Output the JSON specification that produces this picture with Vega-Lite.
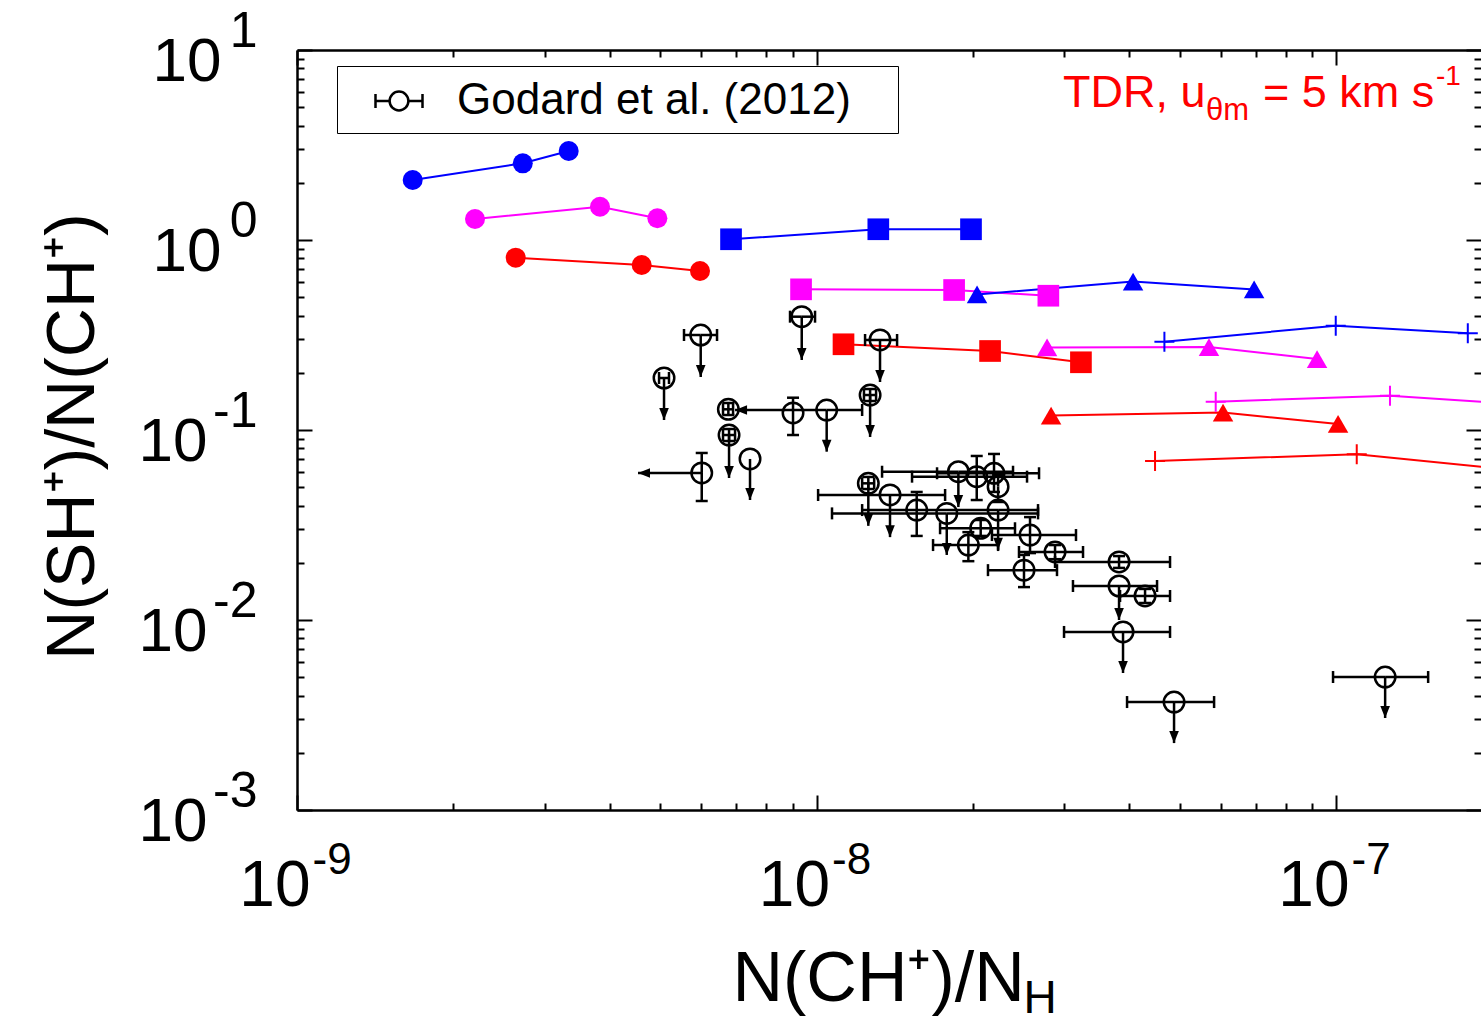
{
  "$schema": "https://vega.github.io/schema/vega-lite/v6.json",
  "width": 1184,
  "height": 760,
  "autosize": {"type": "none"},
  "padding": {"left": 297, "top": 50, "right": 0, "bottom": 211},
  "background": "white",
  "config": {
    "view": {"stroke": null},
    "axis": {"labelFont": "Liberation Sans", "titleFont": "Liberation Sans", "labelColor": "black", "titleColor": "black", "tickColor": "black", "domainColor": "black", "titleFontWeight": "normal", "grid": false},
    "text": {"font": "Liberation Sans"}
  },
  "datasets": {
    "models": [
      {"grp": "blue", "marker": "circle", "x": 1.670e-9, "y": 2.069},
      {"grp": "blue", "marker": "circle", "x": 2.720e-9, "y": 2.533},
      {"grp": "blue", "marker": "circle", "x": 3.334e-9, "y": 2.941},
      {"grp": "magenta", "marker": "circle", "x": 2.201e-9, "y": 1.290},
      {"grp": "magenta", "marker": "circle", "x": 3.830e-9, "y": 1.497},
      {"grp": "magenta", "marker": "circle", "x": 4.939e-9, "y": 1.301},
      {"grp": "red", "marker": "circle", "x": 2.636e-9, "y": 0.807},
      {"grp": "red", "marker": "circle", "x": 4.608e-9, "y": 0.739},
      {"grp": "red", "marker": "circle", "x": 5.967e-9, "y": 0.687},
      {"grp": "blue", "marker": "square", "x": 6.846e-9, "y": 1.009},
      {"grp": "blue", "marker": "square", "x": 1.315e-8, "y": 1.139},
      {"grp": "blue", "marker": "square", "x": 1.983e-8, "y": 1.139},
      {"grp": "magenta", "marker": "square", "x": 9.337e-9, "y": 0.550},
      {"grp": "magenta", "marker": "square", "x": 1.840e-8, "y": 0.5455},
      {"grp": "magenta", "marker": "square", "x": 2.794e-8, "y": 0.509},
      {"grp": "red", "marker": "square", "x": 1.127e-8, "y": 0.2826},
      {"grp": "red", "marker": "square", "x": 2.158e-8, "y": 0.2605},
      {"grp": "red", "marker": "square", "x": 3.228e-8, "y": 0.2272},
      {"grp": "blue", "marker": "triangle", "x": 2.037e-8, "y": 0.517},
      {"grp": "blue", "marker": "triangle", "x": 4.067e-8, "y": 0.604},
      {"grp": "blue", "marker": "triangle", "x": 6.955e-8, "y": 0.549},
      {"grp": "magenta", "marker": "triangle", "x": 2.778e-8, "y": 0.2718},
      {"grp": "magenta", "marker": "triangle", "x": 5.694e-8, "y": 0.2733},
      {"grp": "magenta", "marker": "triangle", "x": 9.193e-8, "y": 0.2363},
      {"grp": "red", "marker": "triangle", "x": 2.828e-8, "y": 0.1192},
      {"grp": "red", "marker": "triangle", "x": 6.060e-8, "y": 0.1236},
      {"grp": "red", "marker": "triangle", "x": 1.009e-7, "y": 0.1076},
      {"grp": "blue", "marker": "plus", "x": 4.673e-8, "y": 0.2915},
      {"grp": "blue", "marker": "plus", "x": 9.986e-8, "y": 0.3539},
      {"grp": "blue", "marker": "plus", "x": 1.793e-7, "y": 0.3228},
      {"grp": "magenta", "marker": "plus", "x": 5.866e-8, "y": 0.1409},
      {"grp": "magenta", "marker": "plus", "x": 1.270e-7, "y": 0.1515},
      {"grp": "magenta", "marker": "plus", "x": 2.363e-7, "y": 0.1354},
      {"grp": "red", "marker": "plus", "x": 4.483e-8, "y": 0.0687},
      {"grp": "red", "marker": "plus", "x": 1.096e-7, "y": 0.0745},
      {"grp": "red", "marker": "plus", "x": 2.261e-7, "y": 0.0611}
    ],
    "obs": [
      {"src": "Godard et al. (2012)", "x": 5.985e-9, "y": 0.3162, "xlo": 5.558e-9, "xhi": 6.434e-9, "ylim": 0.1901},
      {"src": "Godard et al. (2012)", "x": 9.365e-9, "y": 0.3948, "xlo": 8.892e-9, "xhi": 9.934e-9, "ylim": 0.2336},
      {"src": "Godard et al. (2012)", "x": 5.087e-9, "y": 0.1878, "xlo": 4.976e-9, "xhi": 5.200e-9, "ylim": 0.1129},
      {"src": "Godard et al. (2012)", "x": 1.325e-8, "y": 0.2977, "xlo": 1.240e-8, "xhi": 1.429e-8, "ylim": 0.1789},
      {"src": "Godard et al. (2012)", "x": 1.268e-8, "y": 0.1528, "xlo": 1.234e-8, "xhi": 1.302e-8, "ylo": 0.1421, "yhi": 0.1643, "ylim": 0.0919},
      {"src": "Godard et al. (2012)", "x": 6.765e-9, "y": 0.1285, "xlo": 6.607e-9, "xhi": 6.908e-9, "ylo": 0.1199, "yhi": 0.1387},
      {"src": "Godard et al. (2012)", "x": 6.786e-9, "y": 0.0941, "xlo": 6.607e-9, "xhi": 6.969e-9, "ylo": 0.0875, "yhi": 0.1012, "ylim": 0.0559},
      {"src": "Godard et al. (2012)", "x": 9.011e-9, "y": 0.1229, "ylo": 0.0941, "yhi": 0.1479},
      {"src": "Godard et al. (2012)", "x": 1.046e-8, "y": 0.1274, "xhi": 1.224e-8, "xlim": 6.969e-9, "ylim": 0.0769},
      {"src": "Godard et al. (2012)", "x": 7.447e-9, "y": 0.0704, "ylim": 0.0428},
      {"src": "Godard et al. (2012)", "x": 6.012e-9, "y": 0.0594, "ylo": 0.0423, "yhi": 0.0757, "xlim": 4.533e-9},
      {"src": "Godard et al. (2012)", "x": 1.258e-8, "y": 0.0524, "xlo": 1.224e-8, "xhi": 1.291e-8, "ylo": 0.0489, "yhi": 0.0566, "ylim": 0.0313},
      {"src": "Godard et al. (2012)", "x": 1.385e-8, "y": 0.0455, "xlo": 1.007e-8, "xhi": 1.768e-8, "ylim": 0.0273},
      {"src": "Godard et al. (2012)", "x": 1.559e-8, "y": 0.0379, "ylo": 0.0277, "yhi": 0.0472},
      {"src": "Godard et al. (2012)", "x": 1.781e-8, "y": 0.0364, "xlo": 1.071e-8, "xhi": 2.669e-8, "ylim": 0.0220},
      {"src": "Godard et al. (2012)", "x": 1.875e-8, "y": 0.0603, "xlo": 1.337e-8, "xhi": 2.389e-8, "ylim": 0.0393},
      {"src": "Godard et al. (2012)", "x": 2.034e-8, "y": 0.0568, "xlo": 1.527e-8, "xhi": 2.542e-8, "ylo": 0.0428, "yhi": 0.0730},
      {"src": "Godard et al. (2012)", "x": 2.196e-8, "y": 0.0592, "xlo": 1.706e-8, "xhi": 2.681e-8, "ylo": 0.0472, "yhi": 0.0748},
      {"src": "Godard et al. (2012)", "x": 2.236e-8, "y": 0.0503, "ylo": 0.0418, "yhi": 0.0580},
      {"src": "Godard et al. (2012)", "x": 2.236e-8, "y": 0.0379, "xlo": 1.224e-8, "xhi": 2.669e-8, "ylim": 0.0234},
      {"src": "Godard et al. (2012)", "x": 2.070e-8, "y": 0.0304, "xlo": 1.729e-8, "xhi": 2.410e-8, "ylo": 0.0277, "yhi": 0.0336},
      {"src": "Godard et al. (2012)", "x": 1.960e-8, "y": 0.0248, "xlo": 1.676e-8, "xhi": 2.236e-8, "ylo": 0.0204, "yhi": 0.0290},
      {"src": "Godard et al. (2012)", "x": 2.576e-8, "y": 0.0280, "xlo": 2.176e-8, "xhi": 3.158e-8, "ylo": 0.0225, "yhi": 0.0348},
      {"src": "Godard et al. (2012)", "x": 2.878e-8, "y": 0.0228, "xlo": 2.453e-8, "xhi": 3.258e-8, "ylo": 0.0209, "yhi": 0.0248},
      {"src": "Godard et al. (2012)", "x": 2.508e-8, "y": 0.0183, "xlo": 2.138e-8, "xhi": 2.903e-8, "ylo": 0.0149, "yhi": 0.0220},
      {"src": "Godard et al. (2012)", "x": 3.822e-8, "y": 0.0202, "xlo": 2.878e-8, "xhi": 4.791e-8, "ylo": 0.0188, "yhi": 0.0217},
      {"src": "Godard et al. (2012)", "x": 3.822e-8, "y": 0.0151, "xlo": 3.116e-8, "xhi": 4.523e-8, "ylim": 0.0100},
      {"src": "Godard et al. (2012)", "x": 4.289e-8, "y": 0.01338, "xlo": 3.839e-8, "xhi": 4.791e-8, "ylo": 0.01229, "yhi": 0.01457},
      {"src": "Godard et al. (2012)", "x": 3.890e-8, "y": 0.00865, "xlo": 2.995e-8, "xhi": 4.791e-8, "ylim": 0.00526},
      {"src": "Godard et al. (2012)", "x": 4.877e-8, "y": 0.0037, "xlo": 3.960e-8, "xhi": 5.824e-8, "ylim": 0.00225},
      {"src": "Godard et al. (2012)", "x": 1.243e-7, "y": 0.00501, "xlo": 9.867e-8, "xhi": 1.504e-7, "ylim": 0.00305}
    ]
  },
  "resolve": {"axis": {"x": "independent", "y": "independent"}},
  "layer": [
    {
      "data": {"name": "models"},
      "mark": {"type": "line", "strokeWidth": 2, "clip": true},
      "encoding": {
        "x": {"field": "x", "type": "quantitative", "scale": {"type": "log", "domain": [1e-9, 1.901e-7], "nice": false},
          "axis": {"orient": "bottom", "values": [1e-9, 1e-8, 1e-7], "labelExpr": "'10'", "ticks": false, "domain": true, "domainWidth": 2.5, "labelFontSize": 64, "labelAlign": "right", "labelBaseline": "alphabetic", "labelOffset": 13, "labelPadding": 95, "labelFlush": false, "labelOverlap": false, "labelBound": false,
            "title": "N(CH⁺)/N", "titleFontSize": 70, "titleAlign": "left", "titleBaseline": "alphabetic", "titleX": 435, "titleY": 190}},
        "y": {"field": "y", "type": "quantitative", "scale": {"type": "log", "domain": [0.001, 10], "nice": false},
          "axis": {"orient": "left", "values": [0.001, 0.01, 0.1, 1, 10], "labelExpr": "'10'", "ticks": false, "domain": true, "domainWidth": 2.5, "labelFontSize": 62, "labelAlign": "right", "labelBaseline": "alphabetic", "labelOffset": 30, "labelPadding": {"condition": {"test": "datum.value < 0.5", "value": 90}, "value": 76}, "labelFlush": false, "labelOverlap": false, "labelBound": false,
            "title": "N(SH⁺)/N(CH⁺)", "titleFontSize": 68, "titleAngle": 270, "titleAlign": "center", "titleBaseline": "alphabetic", "titleX": -204, "titleY": 386}},
        "color": {"field": "grp", "type": "nominal", "scale": {"domain": ["blue", "magenta", "red"], "range": ["#0000ff", "#ff00ff", "#ff0000"]}, "legend": null},
        "detail": {"field": "marker"}
      }
    },
    {
      "data": {"name": "models"},
      "transform": [{"filter": "datum.marker === 'circle'"}],
      "mark": {"type": "point", "shape": "circle", "filled": true, "size": 400, "opacity": 1, "clip": true},
      "encoding": {
        "x": {"field": "x", "type": "quantitative", "scale": {"type": "log", "domain": [1e-9, 1.901e-7], "nice": false},
          "axis": {"orient": "bottom", "values": [1e-9, 1e-8, 1e-7], "labelExpr": "'' + round(log(datum.value)/LN10)", "ticks": false, "domain": false, "labelFontSize": 44, "labelAlign": "left", "labelBaseline": "alphabetic", "labelOffset": 15, "labelPadding": 63, "labelFlush": false, "labelOverlap": false, "labelBound": false, "title": null}},
        "y": {"field": "y", "type": "quantitative", "scale": {"type": "log", "domain": [0.001, 10], "nice": false},
          "axis": {"orient": "left", "values": [0.001, 0.01, 0.1, 1, 10], "labelExpr": "'' + round(log(datum.value)/LN10)", "ticks": false, "domain": false, "labelFontSize": 50, "labelAlign": "right", "labelBaseline": "alphabetic", "labelOffset": -4, "labelPadding": 40, "labelFlush": false, "labelOverlap": false, "labelBound": false, "title": null}},
        "color": {"field": "grp", "type": "nominal", "scale": {"domain": ["blue", "magenta", "red"], "range": ["#0000ff", "#ff00ff", "#ff0000"]}, "legend": null}
      }
    },
    {
      "data": {"name": "models"},
      "transform": [{"filter": "datum.marker === 'square'"}],
      "mark": {"type": "point", "shape": "square", "filled": true, "size": 470, "opacity": 1, "clip": true},
      "encoding": {
        "x": {"field": "x", "type": "quantitative", "scale": {"type": "log", "domain": [1e-9, 1.901e-7], "nice": false},
          "axis": {"orient": "bottom", "values": [1e-9, 2e-9, 3e-9, 4e-9, 5e-9, 6e-9, 7e-9, 8e-9, 9e-9, 1e-8, 2e-8, 3e-8, 4e-8, 5e-8, 6e-8, 7e-8, 8e-8, 9e-8, 1e-7], "labels": false, "domain": false, "ticks": true, "tickWidth": 2, "tickSize": {"condition": {"test": "abs(log(datum.value)/LN10 - round(log(datum.value)/LN10)) < 0.01", "value": -15}, "value": -7},
            "title": "H", "titleFontSize": 46, "titleAlign": "left", "titleBaseline": "alphabetic", "titleX": 726, "titleY": 202}},
        "y": {"field": "y", "type": "quantitative", "scale": {"type": "log", "domain": [0.001, 10], "nice": false},
          "axis": {"orient": "left", "values": [0.001, 0.002, 0.003, 0.004, 0.005, 0.006, 0.007, 0.008, 0.009, 0.01, 0.02, 0.03, 0.04, 0.05, 0.06, 0.07, 0.08, 0.09, 0.1, 0.2, 0.3, 0.4, 0.5, 0.6, 0.7, 0.8, 0.9, 1, 2, 3, 4, 5, 6, 7, 8, 9, 10], "labels": false, "domain": false, "ticks": true, "tickWidth": 2, "tickSize": {"condition": {"test": "abs(log(datum.value)/LN10 - round(log(datum.value)/LN10)) < 0.01", "value": -15}, "value": -7}, "title": null}},
        "color": {"field": "grp", "type": "nominal", "scale": {"domain": ["blue", "magenta", "red"], "range": ["#0000ff", "#ff00ff", "#ff0000"]}, "legend": null}
      }
    },
    {
      "data": {"name": "models"},
      "transform": [{"filter": "datum.marker === 'triangle'"}],
      "mark": {"type": "point", "shape": "triangle-up", "filled": true, "size": 420, "opacity": 1, "clip": true},
      "encoding": {
        "x": {"field": "x", "type": "quantitative", "scale": {"type": "log", "domain": [1e-9, 1.901e-7], "nice": false},
          "axis": {"orient": "top", "values": [1e-9, 2e-9, 3e-9, 4e-9, 5e-9, 6e-9, 7e-9, 8e-9, 9e-9, 1e-8, 2e-8, 3e-8, 4e-8, 5e-8, 6e-8, 7e-8, 8e-8, 9e-8, 1e-7], "labels": false, "domain": true, "domainWidth": 2.5, "ticks": true, "tickWidth": 2, "tickSize": {"condition": {"test": "abs(log(datum.value)/LN10 - round(log(datum.value)/LN10)) < 0.01", "value": -15}, "value": -7}, "title": null}},
        "y": {"field": "y", "type": "quantitative", "scale": {"type": "log", "domain": [0.001, 10], "nice": false},
          "axis": {"orient": "right", "values": [0.001, 0.002, 0.003, 0.004, 0.005, 0.006, 0.007, 0.008, 0.009, 0.01, 0.02, 0.03, 0.04, 0.05, 0.06, 0.07, 0.08, 0.09, 0.1, 0.2, 0.3, 0.4, 0.5, 0.6, 0.7, 0.8, 0.9, 1, 2, 3, 4, 5, 6, 7, 8, 9, 10], "labels": false, "domain": false, "ticks": true, "tickWidth": 2, "tickSize": {"condition": {"test": "abs(log(datum.value)/LN10 - round(log(datum.value)/LN10)) < 0.01", "value": -15}, "value": -7}, "title": null}},
        "color": {"field": "grp", "type": "nominal", "scale": {"domain": ["blue", "magenta", "red"], "range": ["#0000ff", "#ff00ff", "#ff0000"]}, "legend": null}
      }
    },
    {
      "data": {"name": "models"},
      "transform": [{"filter": "datum.marker === 'plus'"}],
      "mark": {"type": "point", "shape": "M-1,0H1M0,-1V1", "filled": false, "size": 400, "strokeWidth": 2, "opacity": 1, "clip": true},
      "encoding": {
        "x": {"field": "x", "type": "quantitative", "scale": {"type": "log", "domain": [1e-9, 1.901e-7], "nice": false}, "axis": null},
        "y": {"field": "y", "type": "quantitative", "scale": {"type": "log", "domain": [0.001, 10], "nice": false}, "axis": null},
        "color": {"field": "grp", "type": "nominal", "scale": {"domain": ["blue", "magenta", "red"], "range": ["#0000ff", "#ff00ff", "#ff0000"]}, "legend": null}
      }
    },
    {
      "data": {"name": "obs"},
      "transform": [{"filter": "isValid(datum.xlo)"}],
      "mark": {"type": "rule", "strokeWidth": 2.5, "color": "black"},
      "encoding": {
        "x": {"field": "xlo", "type": "quantitative", "scale": {"type": "log", "domain": [1e-9, 1.901e-7], "nice": false}, "axis": null},
        "x2": {"field": "x"},
        "y": {"field": "y", "type": "quantitative", "scale": {"type": "log", "domain": [0.001, 10], "nice": false}, "axis": null}
      }
    },
    {
      "data": {"name": "obs"},
      "transform": [{"filter": "isValid(datum.xhi)"}],
      "mark": {"type": "rule", "strokeWidth": 2.5, "color": "black"},
      "encoding": {
        "x": {"field": "x", "type": "quantitative", "scale": {"type": "log", "domain": [1e-9, 1.901e-7], "nice": false}, "axis": null},
        "x2": {"field": "xhi"},
        "y": {"field": "y", "type": "quantitative", "scale": {"type": "log", "domain": [0.001, 10], "nice": false}, "axis": null}
      }
    },
    {
      "data": {"name": "obs"},
      "transform": [{"filter": "isValid(datum.ylo)"}],
      "mark": {"type": "rule", "strokeWidth": 2.5, "color": "black"},
      "encoding": {
        "x": {"field": "x", "type": "quantitative", "scale": {"type": "log", "domain": [1e-9, 1.901e-7], "nice": false}, "axis": null},
        "y": {"field": "ylo", "type": "quantitative", "scale": {"type": "log", "domain": [0.001, 10], "nice": false}, "axis": null},
        "y2": {"field": "y"}
      }
    },
    {
      "data": {"name": "obs"},
      "transform": [{"filter": "isValid(datum.yhi)"}],
      "mark": {"type": "rule", "strokeWidth": 2.5, "color": "black"},
      "encoding": {
        "x": {"field": "x", "type": "quantitative", "scale": {"type": "log", "domain": [1e-9, 1.901e-7], "nice": false}, "axis": null},
        "y": {"field": "y", "type": "quantitative", "scale": {"type": "log", "domain": [0.001, 10], "nice": false}, "axis": null},
        "y2": {"field": "yhi"}
      }
    },
    {
      "data": {"name": "obs"},
      "transform": [{"filter": "isValid(datum.xlo)"}],
      "mark": {"type": "tick", "orient": "vertical", "size": 12, "thickness": 2.5, "color": "black", "opacity": 1},
      "encoding": {
        "x": {"field": "xlo", "type": "quantitative", "scale": {"type": "log", "domain": [1e-9, 1.901e-7], "nice": false}, "axis": null},
        "y": {"field": "y", "type": "quantitative", "scale": {"type": "log", "domain": [0.001, 10], "nice": false}, "axis": null}
      }
    },
    {
      "data": {"name": "obs"},
      "transform": [{"filter": "isValid(datum.xhi)"}],
      "mark": {"type": "tick", "orient": "vertical", "size": 12, "thickness": 2.5, "color": "black", "opacity": 1},
      "encoding": {
        "x": {"field": "xhi", "type": "quantitative", "scale": {"type": "log", "domain": [1e-9, 1.901e-7], "nice": false}, "axis": null},
        "y": {"field": "y", "type": "quantitative", "scale": {"type": "log", "domain": [0.001, 10], "nice": false}, "axis": null}
      }
    },
    {
      "data": {"name": "obs"},
      "transform": [{"filter": "isValid(datum.ylo)"}],
      "mark": {"type": "tick", "orient": "horizontal", "size": 12, "thickness": 2.5, "color": "black", "opacity": 1},
      "encoding": {
        "x": {"field": "x", "type": "quantitative", "scale": {"type": "log", "domain": [1e-9, 1.901e-7], "nice": false}, "axis": null},
        "y": {"field": "ylo", "type": "quantitative", "scale": {"type": "log", "domain": [0.001, 10], "nice": false}, "axis": null}
      }
    },
    {
      "data": {"name": "obs"},
      "transform": [{"filter": "isValid(datum.yhi)"}],
      "mark": {"type": "tick", "orient": "horizontal", "size": 12, "thickness": 2.5, "color": "black", "opacity": 1},
      "encoding": {
        "x": {"field": "x", "type": "quantitative", "scale": {"type": "log", "domain": [1e-9, 1.901e-7], "nice": false}, "axis": null},
        "y": {"field": "yhi", "type": "quantitative", "scale": {"type": "log", "domain": [0.001, 10], "nice": false}, "axis": null}
      }
    },
    {
      "data": {"name": "obs"},
      "transform": [{"filter": "isValid(datum.ylim)"}],
      "mark": {"type": "rule", "strokeWidth": 2.5, "color": "black"},
      "encoding": {
        "x": {"field": "x", "type": "quantitative", "scale": {"type": "log", "domain": [1e-9, 1.901e-7], "nice": false}, "axis": null},
        "y": {"field": "y", "type": "quantitative", "scale": {"type": "log", "domain": [0.001, 10], "nice": false}, "axis": null},
        "y2": {"field": "ylim"}
      }
    },
    {
      "data": {"name": "obs"},
      "transform": [{"filter": "isValid(datum.ylim)"}],
      "mark": {"type": "point", "shape": "M0,0L-0.4,-1L0.4,-1Z", "filled": true, "color": "black", "size": 576, "opacity": 1},
      "encoding": {
        "x": {"field": "x", "type": "quantitative", "scale": {"type": "log", "domain": [1e-9, 1.901e-7], "nice": false}, "axis": null},
        "y": {"field": "ylim", "type": "quantitative", "scale": {"type": "log", "domain": [0.001, 10], "nice": false}, "axis": null}
      }
    },
    {
      "data": {"name": "obs"},
      "transform": [{"filter": "isValid(datum.xlim)"}],
      "mark": {"type": "rule", "strokeWidth": 2.5, "color": "black"},
      "encoding": {
        "x": {"field": "xlim", "type": "quantitative", "scale": {"type": "log", "domain": [1e-9, 1.901e-7], "nice": false}, "axis": null},
        "x2": {"field": "x"},
        "y": {"field": "y", "type": "quantitative", "scale": {"type": "log", "domain": [0.001, 10], "nice": false}, "axis": null}
      }
    },
    {
      "data": {"name": "obs"},
      "transform": [{"filter": "isValid(datum.xlim)"}],
      "mark": {"type": "point", "shape": "M0,0L1,-0.4L1,0.4Z", "filled": true, "color": "black", "size": 576, "opacity": 1},
      "encoding": {
        "x": {"field": "xlim", "type": "quantitative", "scale": {"type": "log", "domain": [1e-9, 1.901e-7], "nice": false}, "axis": null},
        "y": {"field": "y", "type": "quantitative", "scale": {"type": "log", "domain": [0.001, 10], "nice": false}, "axis": null}
      }
    },
    {
      "data": {"name": "obs"},
      "mark": {"type": "point", "shape": "circle", "filled": false, "size": 420, "strokeWidth": 2.5, "opacity": 1},
      "encoding": {
        "x": {"field": "x", "type": "quantitative", "scale": {"type": "log", "domain": [1e-9, 1.901e-7], "nice": false}, "axis": null},
        "y": {"field": "y", "type": "quantitative", "scale": {"type": "log", "domain": [0.001, 10], "nice": false}, "axis": null},
        "stroke": {"field": "src", "type": "nominal", "scale": {"range": ["black"]},
          "legend": {"orient": "none", "legendX": 40, "legendY": 16, "title": null, "symbolType": "M-1,0H-0.4M0.4,0H1M-1,-0.3V0.3M1,-0.3V0.3M0.4,0A0.4,0.4,0,1,1,-0.4,0A0.4,0.4,0,1,1,0.4,0", "symbolSize": 2209, "symbolStrokeWidth": 2.5, "symbolStrokeColor": "black", "symbolFillColor": "transparent", "symbolOffset": 27, "labelFont": "Liberation Sans", "labelFontSize": 44, "labelColor": "black", "labelOffset": 33, "labelLimit": 2000, "labelExpr": "datum.label + '\u00a0\u00a0\u00a0\u200b'", "padding": 10, "strokeColor": "black", "fillColor": "white", "cornerRadius": 0,
            "encode": {"legend": {"update": {"strokeWidth": {"value": 2}}}}}}
      }
    },
    {
      "data": {"values": [{}]},
      "mark": {"type": "text", "text": "TDR, u", "font": "Liberation Sans", "fontSize": 45, "color": "#ff0000", "align": "left", "baseline": "alphabetic"},
      "encoding": {
        "x": {"datum": 2.981e-8, "type": "quantitative", "scale": {"type": "log", "domain": [1e-9, 1.901e-7], "nice": false}, "axis": null},
        "y": {"datum": 5.012, "type": "quantitative", "scale": {"type": "log", "domain": [0.001, 10], "nice": false}, "axis": null}
      }
    },
    {
      "data": {"values": [{}]},
      "mark": {"type": "text", "text": "θm", "font": "Liberation Sans", "fontSize": 31, "color": "#ff0000", "align": "left", "baseline": "alphabetic", "dx": 143, "dy": 13},
      "encoding": {
        "x": {"datum": 2.981e-8, "type": "quantitative", "scale": {"type": "log", "domain": [1e-9, 1.901e-7], "nice": false}, "axis": null},
        "y": {"datum": 5.012, "type": "quantitative", "scale": {"type": "log", "domain": [0.001, 10], "nice": false}, "axis": null}
      }
    },
    {
      "data": {"values": [{}]},
      "mark": {"type": "text", "text": "= 5 km s", "font": "Liberation Sans", "fontSize": 45, "color": "#ff0000", "align": "left", "baseline": "alphabetic", "dx": 200},
      "encoding": {
        "x": {"datum": 2.981e-8, "type": "quantitative", "scale": {"type": "log", "domain": [1e-9, 1.901e-7], "nice": false}, "axis": null},
        "y": {"datum": 5.012, "type": "quantitative", "scale": {"type": "log", "domain": [0.001, 10], "nice": false}, "axis": null}
      }
    },
    {
      "data": {"values": [{}]},
      "mark": {"type": "text", "text": "-1", "font": "Liberation Sans", "fontSize": 28, "color": "#ff0000", "align": "left", "baseline": "alphabetic", "dx": 373, "dy": -22},
      "encoding": {
        "x": {"datum": 2.981e-8, "type": "quantitative", "scale": {"type": "log", "domain": [1e-9, 1.901e-7], "nice": false}, "axis": null},
        "y": {"datum": 5.012, "type": "quantitative", "scale": {"type": "log", "domain": [0.001, 10], "nice": false}, "axis": null}
      }
    }
  ]
}
